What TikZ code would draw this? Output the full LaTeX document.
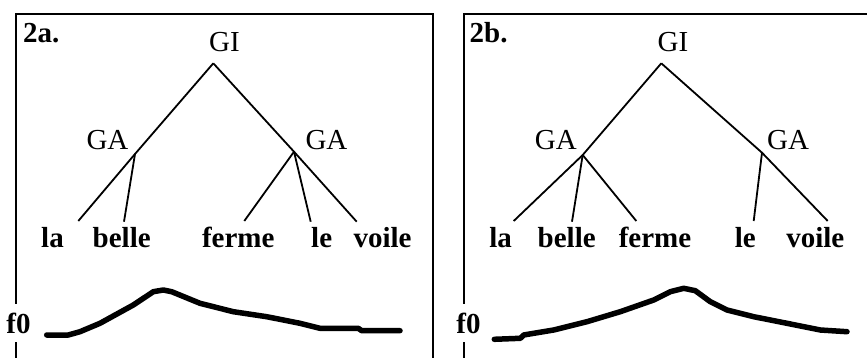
\documentclass[tikz,border=0pt]{standalone}
\usepackage{fontspec}
\setmainfont{Liberation Serif}
\usetikzlibrary{positioning}
\tikzset{
  font=\fontsize{29}{31}\selectfont,
  frame/.style={line width=2pt, draw=black},
  branch/.style={line width=1.8pt, draw=black},
  contour/.style={line width=5.5pt, draw=black, line join=round, line cap=round},
  cat/.style={anchor=base, inner sep=0pt},
  word/.style={anchor=base, inner sep=0pt, font=\fontsize{29}{31}\selectfont\bfseries},
  paneltag/.style={anchor=base west, inner sep=0pt, font=\fontsize{29}{31}\selectfont\bfseries},
  axislabel/.style={word, fill=white, inner xsep=2pt, inner ysep=9pt}
}

\begin{document}
\begin{tikzpicture}[x=1pt,y=-1pt]
  \useasboundingbox (0,0) rectangle (867,358);

  % ---- Panel 2a ----
  \draw[frame] (15.7,360) -- (15.7,14.3) -- (432.7,14.3) -- (432.7,360);
  \node[paneltag] (tagA) at (23,43) {2a.};
  \node[cat] (giA)  at (224.5,51.7) {GI};
  \node[cat] (gaA1) at (107.5,150) {GA};
  \node[cat] (gaA2) at (326.5,150) {GA};
  \coordinate (rootA) at (213.3,63.3);
  \coordinate (brA1)  at (135,154);
  \coordinate (brA2)  at (294,151.7);
  \coordinate (eLaA)    at (78.3,221);
  \coordinate (eBelleA) at (124,221.7);
  \coordinate (eFermeA) at (244.3,221);
  \coordinate (eLeA)    at (310.7,221.7);
  \coordinate (eVoileA) at (356.7,221.7);

  \node[word] (laA)    at (52.5,247.5)  {la};
  \node[word] (belleA) at (121.7,247.5) {belle};
  \node[word] (fermeA) at (238.3,247.5) {ferme};
  \node[word] (leA)    at (321.7,247.5) {le};
  \node[word] (voileA) at (382.5,247.5) {voile};

  \draw[branch] (rootA) -- (brA1) -- (eLaA);
  \draw[branch] (rootA) -- (brA2) -- (eVoileA);
  \draw[branch] (brA1) -- (eBelleA);
  \draw[branch] (brA2) -- (eFermeA);
  \draw[branch] (brA2) -- (eLeA);

  \node[axislabel] (fzA) at (18.5,333) {f0};
  \draw[contour] (46.7,335) -- (68.3,335) -- (80,331.7) -- (100,323.3)
    -- (133.3,305) -- (153.3,291.7) -- (163.3,290) -- (171.7,291.7)
    -- (200,303.3) -- (233.3,311.7) -- (266.7,316.7) -- (300,323.3)
    -- (320,328.3) -- (358.3,328.3) -- (361.7,330.7) -- (400,330.7);

  % ---- Panel 2b ----
  \draw[frame] (463.7,360) -- (463.7,14.3) -- (870,14.3);
  \node[paneltag] (tagB) at (469.5,43) {2b.};
  \node[cat] (giB)  at (673,51.7) {GI};
  \node[cat] (gaB1) at (555.8,150) {GA};
  \node[cat] (gaB2) at (788,150) {GA};
  \coordinate (rootB) at (661.3,63.3);
  \coordinate (brB1)  at (582.7,155);
  \coordinate (brB2)  at (762,152.7);
  \coordinate (eLaB)    at (513.7,221);
  \coordinate (eBelleB) at (572,221.7);
  \coordinate (eFermeB) at (636.3,221);
  \coordinate (eLeB)    at (753.7,221);
  \coordinate (eVoileB) at (827.7,221);

  \node[word] (laB)    at (500.7,247.5) {la};
  \node[word] (belleB) at (566.7,247.5) {belle};
  \node[word] (fermeB) at (655,247.5)   {ferme};
  \node[word] (leB)    at (745.3,247.5) {le};
  \node[word] (voileB) at (815.3,247.5) {voile};

  \draw[branch] (rootB) -- (brB1) -- (eLaB);
  \draw[branch] (rootB) -- (brB2) -- (eVoileB);
  \draw[branch] (brB1) -- (eBelleB);
  \draw[branch] (brB1) -- (eFermeB);
  \draw[branch] (brB2) -- (eLeB);

  \node[axislabel] (fzB) at (468.5,333) {f0};
  \draw[contour] (494.3,339.3) -- (520.3,338.3) -- (523.7,335) -- (553.7,330)
    -- (587,321.7) -- (620.3,311.7) -- (653.7,300) -- (670.3,291.7)
    -- (683.7,288.3) -- (695.3,290.7) -- (710.3,301.7) -- (727,310)
    -- (753.7,316.7) -- (787,323.3) -- (820.3,330) -- (847,331.7);
\end{tikzpicture}
\end{document}
